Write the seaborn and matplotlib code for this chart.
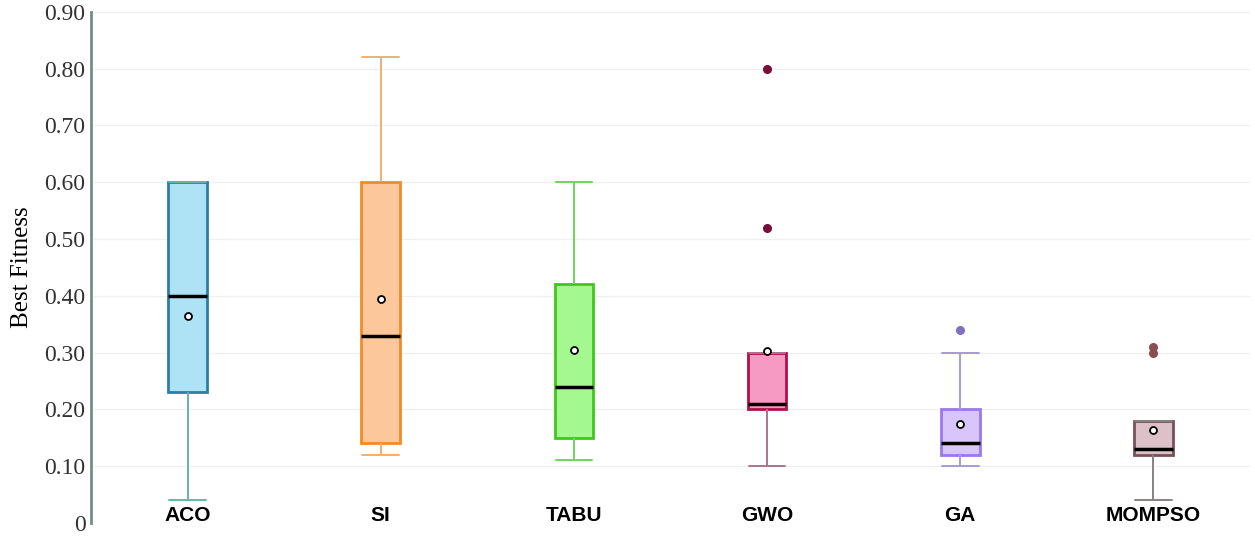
import numpy as np
import pandas as pd
import matplotlib
matplotlib.use("Agg")
import matplotlib.pyplot as plt
import seaborn as sns

# ----------------------------------
# Data
# ----------------------------------
algorithms = ["ACO", "SI", "TABU", "GWO", "GA", "MOMPSO"]

aco = [0.04, 0.10, 0.23, 0.30, 0.40, 0.415, 0.60, 0.60, 0.60]
si = [0.12, 0.13, 0.14, 0.25, 0.33, 0.45, 0.60, 0.715, 0.82]
tabu = [0.11, 0.13, 0.15, 0.20, 0.24, 0.35, 0.42, 0.545, 0.60]
gwo = [0.10, 0.12, 0.20, 0.205, 0.21, 0.272, 0.30, 0.52, 0.80]
ga = [0.10, 0.10, 0.12, 0.12, 0.14, 0.155, 0.20, 0.30, 0.34]
mompso = [0.04, 0.10, 0.12, 0.125, 0.13, 0.162, 0.18, 0.30, 0.31]

y_ticks = [0, 0.1, 0.2, 0.3, 0.4, 0.5, 0.6, 0.7, 0.8, 0.9]
y_tick_labels = ["0", "0.10", "0.20", "0.30", "0.40", "0.50", "0.60", "0.70", "0.80", "0.90"]

face_colors = ["#aee3f5", "#fcc79a", "#a5f890", "#f59ac0", "#d8c6fa", "#dcc2c8"]
edge_colors = ["#2a7ea8", "#ef8c25", "#3ec81e", "#b0104a", "#9a78f0", "#7a5058"]
whisker_colors = ["#5fb8a8", "#f0b070", "#6ad858", "#b07090", "#a898e0", "#8a8080"]
flier_colors = ["#2a7ea8", "#ef8c25", "#3ec81e", "#7a0c38", "#8070c0", "#8a5050"]

df = pd.DataFrame({
    "Algorithm": np.repeat(algorithms, [len(aco), len(si), len(tabu), len(gwo), len(ga), len(mompso)]),
    "Best Fitness": aco + si + tabu + gwo + ga + mompso,
})

# ----------------------------------
# Plot
# ----------------------------------
sns.set_style("white")
plt.rcParams["font.family"] = ["DejaVu Sans"]

fig = plt.figure(figsize=(12.55, 5.38), dpi=100)
ax = fig.add_axes([0.0725, 0.028, 0.9235, 0.95])

for i, name in enumerate(algorithms):
    sns.boxplot(
        data=df[df["Algorithm"] == name],
        x="Algorithm",
        y="Best Fitness",
        order=algorithms,
        width=0.2,
        color=face_colors[i],
        linecolor=edge_colors[i],
        saturation=1,
        linewidth=2,
        showmeans=True,
        capwidths=0.19,
        boxprops={"facecolor": face_colors[i], "edgecolor": edge_colors[i], "linewidth": 2},
        medianprops={"color": "black", "linewidth": 2.5},
        whiskerprops={"color": whisker_colors[i], "linewidth": 1.4},
        capprops={"color": whisker_colors[i], "linewidth": 1.4},
        meanprops={"marker": "o", "markerfacecolor": "white", "markeredgecolor": "black",
                   "markersize": 5, "markeredgewidth": 1.3},
        flierprops={"marker": "o", "markerfacecolor": flier_colors[i],
                    "markeredgecolor": flier_colors[i], "markersize": 5.5},
        ax=ax,
    )

ax.set_xlim(-0.5, 5.5)
ax.set_ylim(0, 0.9)
ax.set_yticks(y_ticks)
ax.set_yticklabels(y_tick_labels, family="Liberation Serif", fontsize=17, color="#333333")
ax.set_xticks(range(len(algorithms)))
ax.set_xticklabels(algorithms, family="Liberation Sans", fontweight="bold", fontsize=15, color="black")
ax.tick_params(axis="x", direction="out", length=5, width=1, color="#aaaaaa", pad=-17)
ax.tick_params(axis="y", length=0, pad=4)

ax.yaxis.grid(True, color="#f0f0f0", linewidth=1)
ax.set_axisbelow(True)
ax.set_xlabel("")
ax.set_ylabel("Best Fitness", family="Liberation Serif", fontsize=18, labelpad=8, color="black")

for side in ["top", "right", "bottom"]:
    ax.spines[side].set_visible(False)
ax.spines["left"].set_color("#6f8f8c")
ax.spines["left"].set_linewidth(2)

fig.savefig("out.png", dpi=100)
